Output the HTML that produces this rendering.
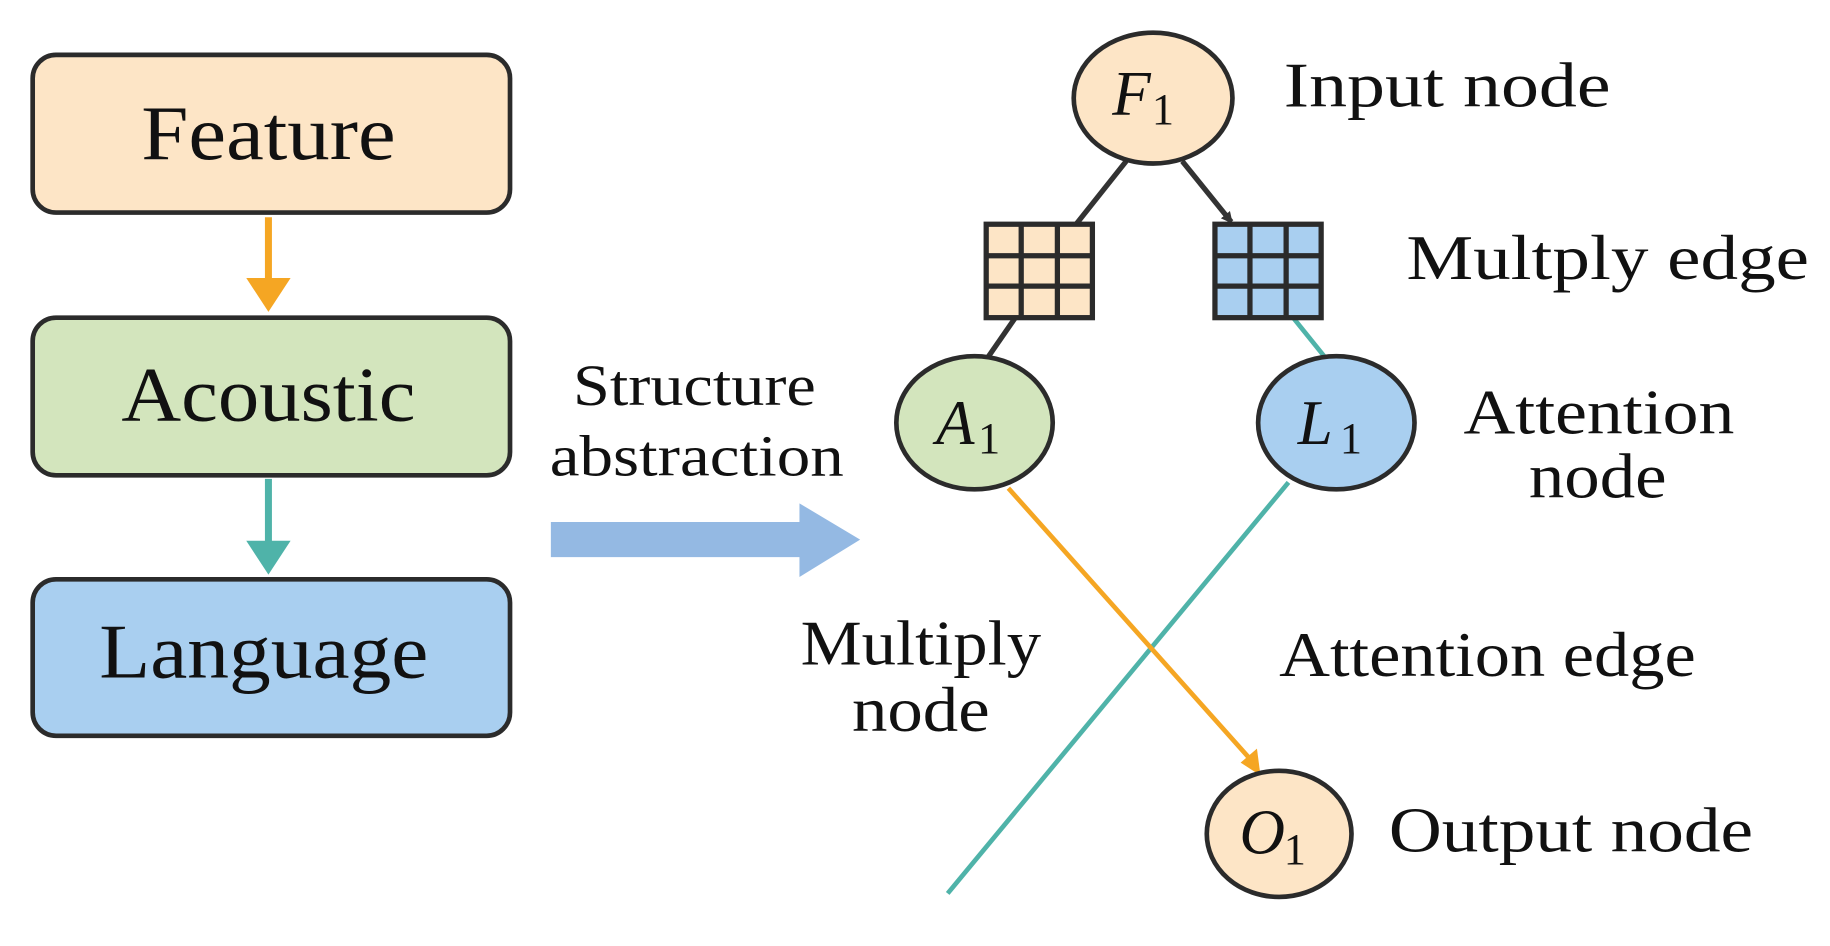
<!DOCTYPE html>
<html><head><meta charset="utf-8"><style>
html,body{margin:0;padding:0;background:#fff;}
svg{display:block;}
text{font-family:"Liberation Serif",serif;fill:#111;}
</style></head><body>
<svg width="1830" height="946" viewBox="0 0 1568 810" preserveAspectRatio="none" xmlns="http://www.w3.org/2000/svg">
<defs>
<marker id="ah" markerWidth="10" markerHeight="10" refX="8" refY="5" orient="auto" markerUnits="userSpaceOnUse"><path d="M0,0 L10,5 L0,10 Z" fill="#333"/></marker>
</defs>
<rect x="28" y="47" width="409" height="135" rx="20" fill="#fde5c6" stroke="#2b2b2b" stroke-width="4"/>
<text x="230" y="136" font-size="66" text-anchor="middle" textLength="218" lengthAdjust="spacingAndGlyphs">Feature</text>
<line x1="230" y1="186" x2="230" y2="240" stroke="#f5a623" stroke-width="6"/>
<path d="M211,238 L249,238 L230,267 Z" fill="#f5a623"/>
<rect x="28" y="272" width="409" height="135" rx="20" fill="#d3e5bd" stroke="#2b2b2b" stroke-width="4"/>
<text x="230" y="360" font-size="66" text-anchor="middle" textLength="252" lengthAdjust="spacingAndGlyphs">Acoustic</text>
<line x1="230" y1="410" x2="230" y2="465" stroke="#4fb3a9" stroke-width="6"/>
<path d="M211,463 L249,463 L230,492 Z" fill="#4fb3a9"/>
<rect x="28" y="496" width="409" height="134" rx="20" fill="#a9cff0" stroke="#2b2b2b" stroke-width="4"/>
<text x="226" y="580" font-size="66" text-anchor="middle" textLength="282" lengthAdjust="spacingAndGlyphs">Language</text>
<text x="595" y="347" font-size="50" text-anchor="middle" textLength="208" lengthAdjust="spacingAndGlyphs">Structure</text>
<text x="597" y="407" font-size="50" text-anchor="middle" textLength="252" lengthAdjust="spacingAndGlyphs">abstraction</text>
<path d="M472,447 L685,447 L685,431 L737,462 L685,494 L685,477 L472,477 Z" fill="#94b9e3"/>
<line x1="965" y1="138" x2="922" y2="192" stroke="#333" stroke-width="4.5"/>
<line x1="1013" y1="138" x2="1055" y2="190" stroke="#333" stroke-width="4.5" marker-end="url(#ah)"/>
<line x1="870" y1="272" x2="845" y2="308" stroke="#333" stroke-width="4.5"/>
<line x1="1108" y1="272" x2="1137" y2="308" stroke="#4fb3a9" stroke-width="4"/>
<line x1="1104" y1="413" x2="812" y2="765" stroke="#4fb3a9" stroke-width="4"/>
<line x1="864" y1="418" x2="1073" y2="652" stroke="#f5a623" stroke-width="4"/>
<path d="M1080,664 L1063,653 L1077,641 Z" fill="#f5a623"/>
<g stroke="#2b2b2b" stroke-width="4.5">
<rect x="845" y="192" width="91" height="80" fill="#fde5c6"/>
<line x1="875" y1="192" x2="875" y2="272"/><line x1="906" y1="192" x2="906" y2="272"/>
<line x1="845" y1="219" x2="936" y2="219"/><line x1="845" y1="245" x2="936" y2="245"/>
<rect x="1041" y="192" width="91" height="80" fill="#a9cff0"/>
<line x1="1071" y1="192" x2="1071" y2="272"/><line x1="1102" y1="192" x2="1102" y2="272"/>
<line x1="1041" y1="219" x2="1132" y2="219"/><line x1="1041" y1="245" x2="1132" y2="245"/>
</g>
<ellipse cx="988" cy="84" rx="68" ry="56" fill="#fde5c6" stroke="#2b2b2b" stroke-width="4"/>
<text x="953" y="98" font-size="54" font-style="italic">F</text><text x="987" y="106" font-size="38">1</text>
<ellipse cx="835" cy="362" rx="67" ry="57" fill="#d3e5bd" stroke="#2b2b2b" stroke-width="4"/>
<text x="802" y="380" font-size="54" font-style="italic">A</text><text x="838" y="388" font-size="38">1</text>
<ellipse cx="1145" cy="362" rx="67" ry="57" fill="#a9cff0" stroke="#2b2b2b" stroke-width="4"/>
<text x="1112" y="380" font-size="54" font-style="italic">L</text><text x="1148" y="388" font-size="38">1</text>
<ellipse cx="1096" cy="714" rx="62" ry="54" fill="#fde5c6" stroke="#2b2b2b" stroke-width="4"/>
<text x="1062" y="731" font-size="54" font-style="italic">O</text><text x="1100" y="740" font-size="38">1</text>
<text x="1100" y="91" font-size="54" textLength="280" lengthAdjust="spacingAndGlyphs">Input node</text>
<text x="1205" y="239" font-size="54" textLength="345" lengthAdjust="spacingAndGlyphs">Multply edge</text>
<text x="1370" y="371" font-size="54" text-anchor="middle" textLength="232" lengthAdjust="spacingAndGlyphs">Attention</text>
<text x="1369" y="426" font-size="54" text-anchor="middle" textLength="118" lengthAdjust="spacingAndGlyphs">node</text>
<text x="789" y="569" font-size="54" text-anchor="middle" textLength="206" lengthAdjust="spacingAndGlyphs">Multiply</text>
<text x="789" y="626" font-size="54" text-anchor="middle" textLength="118" lengthAdjust="spacingAndGlyphs">node</text>
<text x="1096" y="579" font-size="54" textLength="357" lengthAdjust="spacingAndGlyphs">Attention edge</text>
<text x="1190" y="729" font-size="54" textLength="312" lengthAdjust="spacingAndGlyphs">Output node</text>
</svg>
</body></html>
